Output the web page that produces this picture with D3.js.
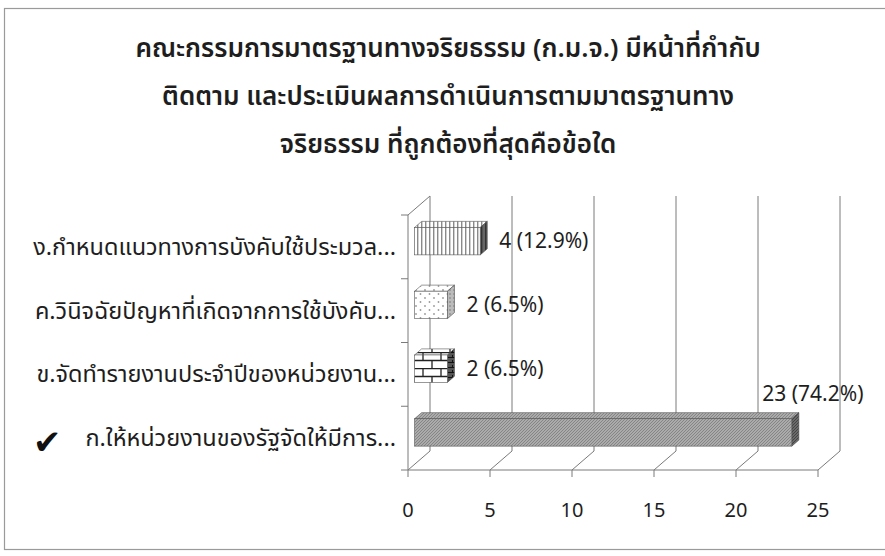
<!DOCTYPE html>
<html>
<head>
<meta charset="utf-8">
<script src="https://cdn.jsdelivr.net/npm/d3@7"></script>
<style>
  body { margin: 0; background: #fff; }
  text { font-family: "Noto Sans Thai", "Tahoma", "Loma", "Garuda", "DejaVu Sans", sans-serif; fill: #1e1e1e; }
</style>
</head>
<body>
<div id="chart"></div>
<script>
const width = 885;
const height = 556;

// chart data
const titleLines = [
  "คณะกรรมการมาตรฐานทางจริยธรรม (ก.ม.จ.) มีหน้าที่กำกับ",
  "ติดตาม และประเมินผลการดำเนินการตามมาตรฐานทาง",
  "จริยธรรม ที่ถูกต้องที่สุดคือข้อใด"
];
const categories = [
  "ก.ให้หน่วยงานของรัฐจัดให้มีการ...",
  "ข.จัดทำรายงานประจำปีของหน่วยงาน...",
  "ค.วินิจฉัยปัญหาที่เกิดจากการใช้บังคับ...",
  "ง.กำหนดแนวทางการบังคับใช้ประมวล..."
];
const counts = [23, 2, 2, 4];
const percents = ["74.2%", "6.5%", "6.5%", "12.9%"];
const correct = [true, false, false, false];
const xTicks = [0, 5, 10, 15, 20, 25];

const fills = ["gray", "brick", "dots", "stripes"];

// 3d geometry
const depth = {dx: 22, dy: -19};
const barDepth = [0.3, 0.62]; // front / back of bars as fraction of floor depth

const x = d3.scaleLinear().domain([0, 25]).range([408, 818]);
const y = d3.scaleBand().domain(categories).range([470, 215]);

const svg = d3.select("#chart").append("svg")
    .attr("width", width)
    .attr("height", height);

// patterns
const defs = svg.append("defs");

function addPattern(id, w, h, bg, draw) {
  const p = defs.append("pattern")
      .attr("id", id)
      .attr("patternUnits", "userSpaceOnUse")
      .attr("width", w)
      .attr("height", h);
  p.append("rect").attr("width", w).attr("height", h).attr("fill", bg);
  draw(p);
}

addPattern("stripes", 4, 4, "#fff", p => {
  p.append("rect").attr("x", 1).attr("width", 1.4).attr("height", 4).attr("fill", "#8a8a8a");
});
addPattern("stripesDark", 4, 4, "#666", p => {
  p.append("rect").attr("x", 1).attr("width", 1.4).attr("height", 4).attr("fill", "#333");
});
addPattern("dots", 9, 8, "#fff", p => {
  p.append("circle").attr("cx", 2).attr("cy", 2).attr("r", 0.9).attr("fill", "#999");
  p.append("circle").attr("cx", 6.5).attr("cy", 6).attr("r", 0.9).attr("fill", "#999");
});
addPattern("dotsDark", 4, 4, "#bbb", p => {
  p.append("circle").attr("cx", 2).attr("cy", 2).attr("r", 0.8).attr("fill", "#777");
});
addPattern("brick", 18, 16, "#fff", p => {
  p.append("path")
      .attr("d", "M0,0.5H18M0,8.5H18M9,0V8M0,8V16M18,8V16")
      .attr("stroke", "#222").attr("stroke-width", 1.3).attr("fill", "none");
});
addPattern("brickDark", 5, 5, "#555", p => {
  p.append("path").attr("d", "M0,2.5H5M2.5,0V2.5").attr("stroke", "#111").attr("stroke-width", 1);
});
addPattern("gray", 3, 3, "#ababab", p => {
  p.append("path").attr("d", "M0,3L3,0").attr("stroke", "#858585").attr("stroke-width", 1);
});
addPattern("grayDark", 3, 3, "#6a6a6a", p => {
  p.append("path").attr("d", "M0,3L3,0").attr("stroke", "#444").attr("stroke-width", 1);
});

// outer frame
svg.append("rect")
    .attr("x", 4.5).attr("y", 8.5)
    .attr("width", 900).attr("height", 541)
    .attr("fill", "none")
    .attr("stroke", "#9a9a9a")
    .attr("stroke-width", 1.2);

// title
svg.append("g")
  .selectAll("text")
  .data(titleLines)
  .join("text")
    .attr("x", 448)
    .attr("y", (d, i) => 57 + i * 48)
    .attr("text-anchor", "middle")
    .attr("font-size", 26)
    .attr("font-weight", 600)
    .text(d => d);

// walls and grid
const yTop = 215, yBottom = 470;
const grid = svg.append("g")
    .attr("fill", "none")
    .attr("stroke", "#7a7a7a")
    .attr("stroke-width", 1);

// back wall gridlines
grid.selectAll(".vline")
  .data(xTicks)
  .join("line")
    .attr("x1", d => x(d) + depth.dx)
    .attr("x2", d => x(d) + depth.dx)
    .attr("y1", yTop + depth.dy)
    .attr("y2", yBottom + depth.dy);

// floor diagonals and ticks
grid.selectAll(".diag")
  .data(xTicks)
  .join("path")
    .attr("d", d => `M${x(d) + depth.dx},${yBottom + depth.dy}L${x(d)},${yBottom}L${x(d)},${yBottom + 7}`);

// floor front edge
grid.append("line")
    .attr("x1", x(0)).attr("x2", x(25))
    .attr("y1", yBottom).attr("y2", yBottom);

// left wall
grid.append("path")
    .attr("d", `M${x(0)},${yBottom}L${x(0)},${yTop}L${x(0) + depth.dx},${yTop + depth.dy}`);

// category ticks on left wall
grid.selectAll(".ytick")
  .data(d3.range(categories.length + 1))
  .join("line")
    .attr("x1", x(0) - 7)
    .attr("x2", x(0))
    .attr("y1", i => yBottom - i * y.step())
    .attr("y2", i => yBottom - i * y.step());

// x tick labels
svg.append("g")
  .selectAll("text")
  .data(xTicks)
  .join("text")
    .attr("x", d => x(d))
    .attr("y", 517)
    .attr("text-anchor", "middle")
    .attr("font-size", 20)
    .text(d => d);

// category labels
svg.append("g")
  .selectAll("text")
  .data(categories)
  .join("text")
    .attr("x", 396)
    .attr("y", d => y(d) + y.bandwidth() / 2 + 8)
    .attr("text-anchor", "end")
    .attr("font-size", 23.5)
    .text(d => d);

// check mark for the right answer
svg.append("g")
  .selectAll("text")
  .data(categories.filter((d, i) => correct[i]))
  .join("text")
    .attr("x", 33)
    .attr("y", d => y(d) + y.bandwidth() / 2 + 16)
    .attr("font-family", "DejaVu Sans")
    .attr("font-size", 34)
    .style("fill", "#111")
    .text("✔");

// bars
const fx = depth.dx * barDepth[0], fy = depth.dy * barDepth[0];
const bdx = depth.dx * (barDepth[1] - barDepth[0]);
const bdy = depth.dy * (barDepth[1] - barDepth[0]);
const barH = y.bandwidth() * 0.43;

const bars = svg.append("g")
  .selectAll("g")
  .data(categories)
  .join("g");

bars.each(function (d, i) {
  const g = d3.select(this);
  const x0 = x(0) + fx;
  const x1 = x(counts[i]) + fx;
  const y0 = y(d) + (y.bandwidth() - barH) / 2 + fy;
  const y1 = y0 + barH;

  // top face
  g.append("path")
      .attr("d", `M${x0},${y0}L${x0 + bdx},${y0 + bdy}L${x1 + bdx},${y0 + bdy}L${x1},${y0}Z`)
      .attr("fill", `url(#${fills[i]})`)
      .attr("stroke", "#555").attr("stroke-width", 0.6);
  // right face
  g.append("path")
      .attr("d", `M${x1},${y0}L${x1 + bdx},${y0 + bdy}L${x1 + bdx},${y1 + bdy}L${x1},${y1}Z`)
      .attr("fill", `url(#${fills[i]}Dark)`)
      .attr("stroke", "#444").attr("stroke-width", 0.6);
  // front face
  g.append("rect")
      .attr("x", x0).attr("y", y0)
      .attr("width", x1 - x0).attr("height", barH)
      .attr("fill", `url(#${fills[i]})`)
      .attr("stroke", "#555").attr("stroke-width", 0.6);

  // value label
  const txt = `${counts[i]} (${percents[i]})`;
  const outside = x1 + bdx + 12;
  if (outside + 100 < 845) {
    g.append("text")
        .attr("x", outside)
        .attr("y", y0 + barH / 2 + 7)
        .attr("font-size", 21)
        .text(txt);
  } else {
    g.append("text")
        .attr("x", x1 + bdx + 14)
        .attr("y", y0 + bdy - 12)
        .attr("text-anchor", "middle")
        .attr("font-size", 21)
        .text(txt);
  }
});
</script>
</body>
</html>
